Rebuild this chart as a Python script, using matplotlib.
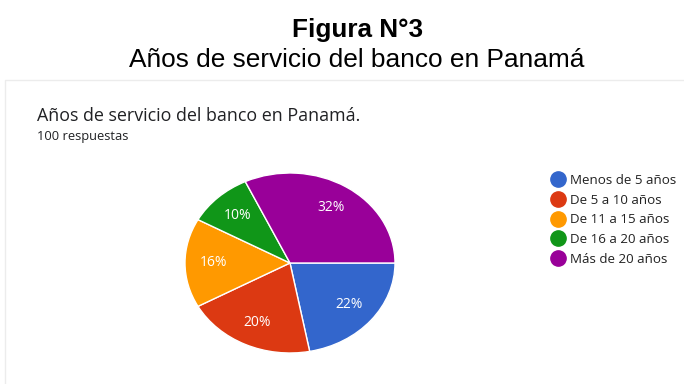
import matplotlib
matplotlib.use("Agg")
import matplotlib.pyplot as plt
from matplotlib.patches import Rectangle
from matplotlib.lines import Line2D

labels = ["Menos de 5 años", "De 5 a 10 años", "De 11 a 15 años",
          "De 16 a 20 años", "Más de 20 años"]
values = [22, 20, 16, 10, 32]
colors = ["#3366cc", "#dc3912", "#ff9900", "#109618", "#990099"]

W, H = 684, 384
fig = plt.figure(figsize=(W / 100, H / 100), dpi=100)


def fx(px):
    return px / W


def fy(py):
    return 1 - py / H


# card frame
fig.patches.append(Rectangle((fx(5), fy(H + 5)), fx(W), fy(80) - fy(H + 5),
                             transform=fig.transFigure, facecolor="white",
                             edgecolor="#ececec", linewidth=1, zorder=-5))

fig.text(fx(358), fy(37), "Figura N°3", ha="center", va="baseline",
         fontsize=18.8, fontweight="bold", family="Liberation Sans")
fig.text(fx(357), fy(67), "Años de servicio del banco en Panamá", ha="center",
         va="baseline", fontsize=18.9, family="Liberation Sans")

fig.text(fx(37), fy(116), "Años de servicio del banco en Panamá.", ha="left",
         va="center", fontsize=12.9, family="Open Sans", color="#202124")
fig.text(fx(37), fy(136), "100 respuestas", ha="left", va="center",
         fontsize=9.3, family="Open Sans", color="#202124")

# pie (slightly stretched horizontally)
ax = fig.add_axes([fx(185), fy(353), fx(395) - fx(185), fy(173) - fy(353)])
wedges, texts, autotexts = ax.pie(
    values, colors=colors, startangle=0, counterclock=False,
    autopct="%d%%", pctdistance=0.73,
    wedgeprops=dict(edgecolor="white", linewidth=1),
    textprops=dict(color="white", fontsize=10, family="Open Sans"))
ax.set_aspect("auto")
ax.set_xlim(-1, 1)
ax.set_ylim(-1, 1)
ax.axis("off")

handles = [Line2D([], [], marker="o", linestyle="", markersize=11,
                  markerfacecolor=c, markeredgecolor=c) for c in colors]
fig.legend(handles, labels, loc="upper left",
           bbox_to_anchor=(fx(551), fy(174)), frameon=False,
           prop=dict(family="Open Sans", size=9.6), labelcolor="#222222",
           handlelength=1.0, handletextpad=0.4, labelspacing=0.5,
           borderaxespad=0, borderpad=0)

fig.savefig("out.png", dpi=100)
